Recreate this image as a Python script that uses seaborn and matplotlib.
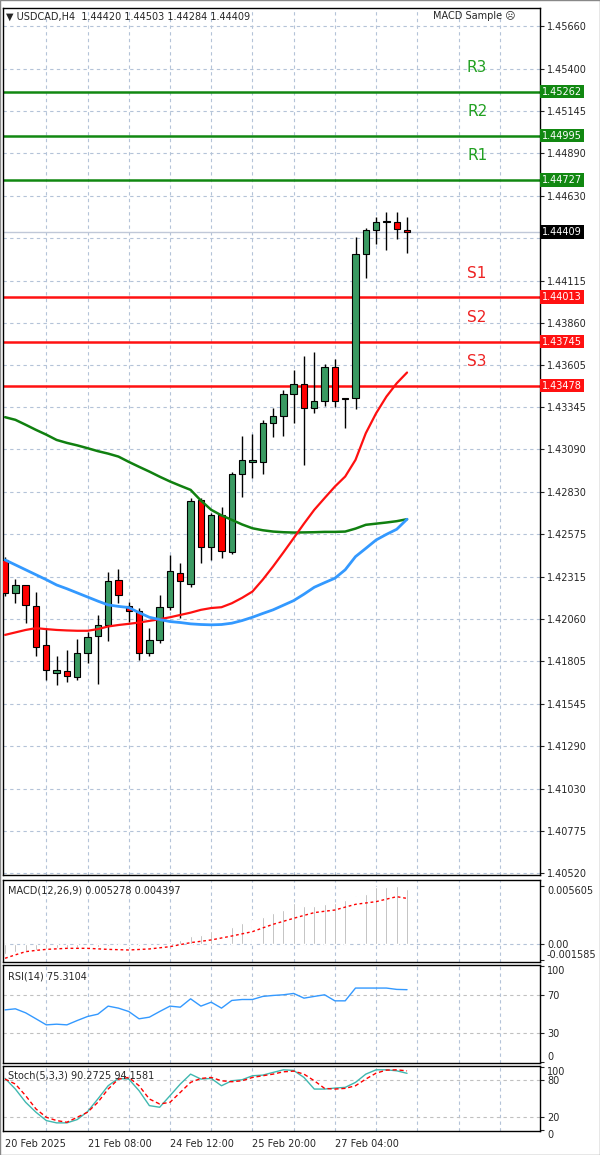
import numpy as np
import pandas as pd
import matplotlib
matplotlib.use("Agg")
import matplotlib.pyplot as plt
import matplotlib.transforms as mtrans
import seaborn as sns

sns.set_style("white")
plt.rcParams['font.family'] = ['DejaVu Sans']

opens = [1.42420,1.42218,1.42268,1.42143,1.41904,1.41736,1.41747,1.41712,1.41854,1.41959,
         1.42026,1.42299,1.42141,1.42107,1.41854,1.41931,1.42137,1.42343,1.42275,1.42784,
         1.42497,1.42693,1.42471,1.42942,1.43017,1.43017,1.43253,1.43294,1.43425,1.43488,
         1.43340,1.43387,1.43589,1.43401,1.43401,1.44277,1.44419,1.44469,1.44473,1.44420]
highs = [1.42440,1.42303,1.42270,1.42228,1.42006,1.41838,1.41874,1.41939,1.41985,1.42086,
         1.42349,1.42364,1.42167,1.42127,1.42006,1.42208,1.42450,1.42400,1.42794,1.42794,
         1.42703,1.42744,1.42956,1.43169,1.43185,1.43270,1.43340,1.43452,1.43573,1.43660,
         1.43684,1.43610,1.43640,1.43403,1.44382,1.44433,1.44500,1.44534,1.44534,1.44503]
lows = [1.42202,1.42157,1.42036,1.41834,1.41692,1.41662,1.41682,1.41692,1.41797,1.41668,
        1.41925,1.42157,1.42046,1.41813,1.41834,1.41914,1.42117,1.42066,1.42254,1.42400,
        1.42420,1.42430,1.42457,1.42804,1.42916,1.42942,1.43165,1.43173,1.43253,1.42997,
        1.43314,1.43355,1.43347,1.43219,1.43334,1.44129,1.44338,1.44301,1.44366,1.44284]
closes = [1.42218,1.42268,1.42147,1.41894,1.41749,1.41753,1.41716,1.41854,1.41955,1.42026,
          1.42289,1.42208,1.42107,1.41858,1.41931,1.42137,1.42355,1.42289,1.42780,1.42497,
          1.42693,1.42477,1.42942,1.43027,1.43027,1.43253,1.43294,1.43425,1.43488,1.43340,
          1.43387,1.43589,1.43387,1.43395,1.44277,1.44419,1.44473,1.44475,1.44427,1.44409]

ma_red = [1.41965,1.41980,1.41995,1.42006,1.42000,1.41995,1.41992,1.41990,1.41990,1.42000,
          1.42016,1.42025,1.42032,1.42040,1.42050,1.42060,1.42072,1.42086,1.42100,1.42117,
          1.42128,1.42133,1.42157,1.42190,1.42228,1.42300,1.42380,1.42465,1.42552,1.42640,
          1.42724,1.42795,1.42865,1.42926,1.43027,1.43189,1.43310,1.43411,1.43492,1.43557]
ma_blue = [1.42420,1.42390,1.42360,1.42330,1.42300,1.42268,1.42245,1.42220,1.42195,1.42170,
           1.42147,1.42138,1.42131,1.42100,1.42072,1.42058,1.42046,1.42040,1.42032,1.42028,
           1.42026,1.42028,1.42036,1.42052,1.42072,1.42095,1.42117,1.42145,1.42173,1.42212,
           1.42254,1.42282,1.42309,1.42360,1.42440,1.42490,1.42541,1.42575,1.42606,1.42667]
ma_green = [1.43286,1.43270,1.43240,1.43209,1.43180,1.43148,1.43130,1.43115,1.43098,1.43080,
            1.43065,1.43047,1.43015,1.42985,1.42956,1.42925,1.42896,1.42870,1.42845,1.42780,
            1.42724,1.42690,1.42663,1.42635,1.42612,1.42600,1.42592,1.42588,1.42586,1.42587,
            1.42588,1.42590,1.42590,1.42592,1.42610,1.42633,1.42640,1.42647,1.42655,1.42667]

macd_hist = [-0.0010,-0.0008,-0.0007,-0.0006,-0.0005,-0.0004,-0.0004,-0.0004,-0.0003,-0.0003,
             -0.0002,-0.0002,-0.0002,-0.0002,-0.0001,0.0000,0.0002,0.0004,0.00077,0.00087,
             0.00126,0.00126,0.00167,0.00206,0.00232,0.00264,0.00296,0.00328,0.00399,0.00367,
             0.00367,0.00383,0.00393,0.00425,0.00464,0.00480,0.00547,0.00547,0.00561,0.00528]
macd_signal = [-0.00138,-0.00105,-0.00074,-0.00062,-0.00052,-0.00047,-0.00042,-0.00042,-0.00042,-0.00047,
               -0.00052,-0.00055,-0.00058,-0.00053,-0.00048,-0.00037,-0.00026,-0.00006,0.00013,0.00026,
               0.00039,0.00058,0.00077,0.00098,0.00119,0.00155,0.00190,0.00219,0.00248,0.00276,
               0.00303,0.00316,0.00328,0.00356,0.00383,0.00396,0.00409,0.00433,0.00457,0.00440]
rsi = [54.3,55.4,51.2,45.0,38.7,39.4,38.7,43.2,47.4,49.8,58.2,56.1,52.6,45.0,46.7,52.6,58.2,57.1,65.8,58.2,
       62.3,56.1,64.1,65.1,65.1,68.3,69.3,70.0,71.4,66.5,68.3,70.0,63.7,63.7,77.0,77.0,77.0,77.0,75.6,75.3]
stoch_main = [82.1,65.1,43.9,28.0,14.7,11.0,11.0,16.3,29.0,49.2,70.4,82.1,81.1,62.5,38.6,36.0,54.5,73.1,89.0,81.1,
              82.1,70.4,78.4,80.0,86.4,87.4,91.7,95.9,94.9,83.7,65.1,65.1,66.7,67.8,75.8,89.0,95.9,95.9,94.3,90.3]
stoch_signal = [81.1,73.1,54.5,33.3,20.0,14.7,12.0,20.0,28.0,43.9,65.1,81.1,83.7,70.4,49.2,41.2,43.9,59.8,75.8,82.1,
                83.7,78.4,76.8,78.4,83.7,86.4,89.0,92.7,93.8,89.0,78.4,66.2,65.1,66.2,70.4,81.1,90.6,95.4,95.9,94.2]

levels_r = [1.44727, 1.44995, 1.45262]
levels_s = [1.44013, 1.43745, 1.43478]
names_r = ["R1", "R2", "R3"]
names_s = ["S1", "S2", "S3"]
price_ticks = [1.45660,1.45400,1.45145,1.44890,1.44630,1.44115,1.43860,1.43605,1.43345,1.43090,
               1.42830,1.42575,1.42315,1.42060,1.41805,1.41545,1.41290,1.41030,1.40775,1.40520]
date_labels = ["20 Feb 2025", "21 Feb 08:00", "24 Feb 12:00", "25 Feb 20:00", "27 Feb 04:00"]
last_price = 1.44409

n = len(opens)
idx = np.arange(n)
df = pd.DataFrame({"i": idx, "o": opens, "h": highs, "l": lows, "c": closes,
                   "red": ma_red, "blue": ma_blue, "green": ma_green})

W, H = 600, 1155
fig = plt.figure(figsize=(6, 11.55), dpi=100)
fig.patch.set_facecolor("white")

def rect(y0, y1, x0=3, x1=540):
    return [x0 / W, 1 - y1 / H, (x1 - x0) / W, (y1 - y0) / H]

XMIN, XMAX = -0.2, 51.9
GRIDC = "#b4c3d8"
FS = 7

ax = fig.add_axes(rect(8, 875))
ax1 = fig.add_axes(rect(880, 962))
ax2 = fig.add_axes(rect(965, 1063))
ax3 = fig.add_axes(rect(1066, 1131))

for a in (ax, ax1, ax2, ax3):
    a.set_xlim(XMIN, XMAX)
    for s in a.spines.values():
        s.set_color("black"); s.set_linewidth(1.0)
    a.yaxis.tick_right()
    a.tick_params(axis="y", labelsize=FS, length=3, pad=2, direction="out")
    a.tick_params(axis="x", length=0)
    for xv in range(4, 52, 4):
        a.axvline(xv, color=GRIDC, lw=0.8, ls=(0, (3, 3)), zorder=0)
    a.set_xticks([])

# main price panel
ax.set_ylim(1.40508, 1.45769)
ax.set_yticks(price_ticks)
ax.set_yticklabels([f"{t:.5f}" for t in price_ticks])
for t in price_ticks + [1.44375]:
    ax.axhline(t, color=GRIDC, lw=0.8, ls=(0, (3, 3)), zorder=0)

GREEN = "#3a9a62"
for i in idx:
    o, h, l, c = opens[i], highs[i], lows[i], closes[i]
    ax.vlines(i, l, h, color="black", lw=1.0, zorder=3)
    lo, hi = min(o, c), max(o, c)
    if hi - lo < 0.00004:
        ax.hlines((o + c) / 2, i - 0.35, i + 0.35, color="black", lw=1.2, zorder=4)
    else:
        col = GREEN if c >= o else "#ff0000"
        ax.bar(i, hi - lo, bottom=lo, width=0.62, color=col, edgecolor="black", lw=0.8, zorder=4)

sns.lineplot(data=df, x="i", y="green", ax=ax, color="#108010", lw=1.8, zorder=5)
sns.lineplot(data=df, x="i", y="red", ax=ax, color="#ff1010", lw=1.6, zorder=5)
sns.lineplot(data=df, x="i", y="blue", ax=ax, color="#3399ff", lw=2.0, zorder=5)
ax.set_xlabel(""); ax.set_ylabel("")

ax.axhline(last_price, color="#c0c8d8", lw=1.0, zorder=1)
btrans = mtrans.blended_transform_factory(ax.transAxes, ax.transData)
for lv, nm in zip(levels_r, names_r):
    ax.axhline(lv, color="#118811", lw=1.8, zorder=2)
    ax.annotate(nm, (45.8, lv), xytext=(0, 12), textcoords="offset points", color="#22a022",
                fontsize=11, ha="center", va="bottom")
    ax.text(1.004, lv, f"{lv:.5f}", transform=btrans, fontsize=FS, color="white", va="center",
            ha="left", bbox=dict(boxstyle="square,pad=0.2", fc="#118811", ec="none"), zorder=10)
for lv, nm in zip(levels_s, names_s):
    ax.axhline(lv, color="#ff1111", lw=1.8, zorder=2)
    ax.annotate(nm, (45.8, lv), xytext=(0, 12), textcoords="offset points", color="#ee2222",
                fontsize=11, ha="center", va="bottom")
    ax.text(1.004, lv, f"{lv:.5f}", transform=btrans, fontsize=FS, color="white", va="center",
            ha="left", bbox=dict(boxstyle="square,pad=0.2", fc="#ff1111", ec="none"), zorder=10)
ax.text(1.004, last_price, f"{last_price:.5f}", transform=btrans, fontsize=FS, color="white",
        va="center", ha="left", bbox=dict(boxstyle="square,pad=0.2", fc="black", ec="none"), zorder=10)
ax.text(0.005, 0.996, "▼ USDCAD,H4  1.44420 1.44503 1.44284 1.44409", transform=ax.transAxes,
        fontsize=FS, va="top", ha="left")
ax.text(0.80, 0.996, "MACD Sample ☹", transform=ax.transAxes, fontsize=FS, va="top", ha="left")

# MACD
ax1.set_ylim(-0.00174, 0.00618)
ax1.bar(idx, macd_hist, width=0.18, color="#a0a0a0", zorder=2)
sns.lineplot(x=idx, y=macd_signal, ax=ax1, color="#ff0000", lw=1.0, linestyle=(0, (2, 2)), zorder=3)
ax1.axhline(0, color=GRIDC, lw=0.8, ls=(0, (3, 3)), zorder=0)
ax1.set_yticks([0.005605, 0.0, -0.001585])
ax1.set_yticklabels(["0.005605", "0.00", "-0.001585"])
ax1.text(0.01, 0.93, "MACD(12,26,9) 0.005278 0.004397", transform=ax1.transAxes, fontsize=FS, va="top")

# RSI
ax2.set_ylim(-1, 101)
for lv in (70, 30):
    ax2.axhline(lv, color="#c0c0c0", lw=0.8, ls=(0, (3, 3)), zorder=0)
sns.lineplot(x=idx, y=rsi, ax=ax2, color="#3399ff", lw=1.0)
ax2.set_yticks([100, 70, 30, 0])
ax2.set_yticklabels(["100", "70", "30", "0"])
ax2.text(0.01, 0.93, "RSI(14) 75.3104", transform=ax2.transAxes, fontsize=FS, va="top")

# Stochastic
ax3.set_ylim(-2, 102)
for lv in (80, 20):
    ax3.axhline(lv, color="#c0c0c0", lw=0.8, ls=(0, (3, 3)), zorder=0)
sns.lineplot(x=idx, y=stoch_main, ax=ax3, color="#40b8b0", lw=1.0)
sns.lineplot(x=idx, y=stoch_signal, ax=ax3, color="#ff0000", lw=1.0, linestyle=(0, (3, 2)))
ax3.set_yticks([100, 80, 20, 0])
ax3.set_yticklabels(["100", "80", "20", "0"])
ax3.text(0.01, 0.93, "Stoch(5,3,3) 90.2725 94.1581", transform=ax3.transAxes, fontsize=FS, va="top")
ax3.set_xticks([0, 8, 16, 24, 32])
ax3.set_xticklabels(date_labels, fontsize=FS, ha="left")
ax3.tick_params(axis="x", length=3, pad=3)

for a in (ax1, ax2):
    labs = a.get_yticklabels()
    labs[0].set_va("top")
    labs[-1].set_va("bottom")
labs = ax3.get_yticklabels()
labs[0].set_va("top")
labs[-1].set_va("top")
for a in (ax1, ax2, ax3):
    a.set_xlabel(""); a.set_ylabel("")

fig.patches.append(plt.Rectangle((0, 0), 1, 1, transform=fig.transFigure, fill=False,
                                 ec="#888888", lw=1.0))
fig.savefig("out.png", dpi=100, facecolor="white")
